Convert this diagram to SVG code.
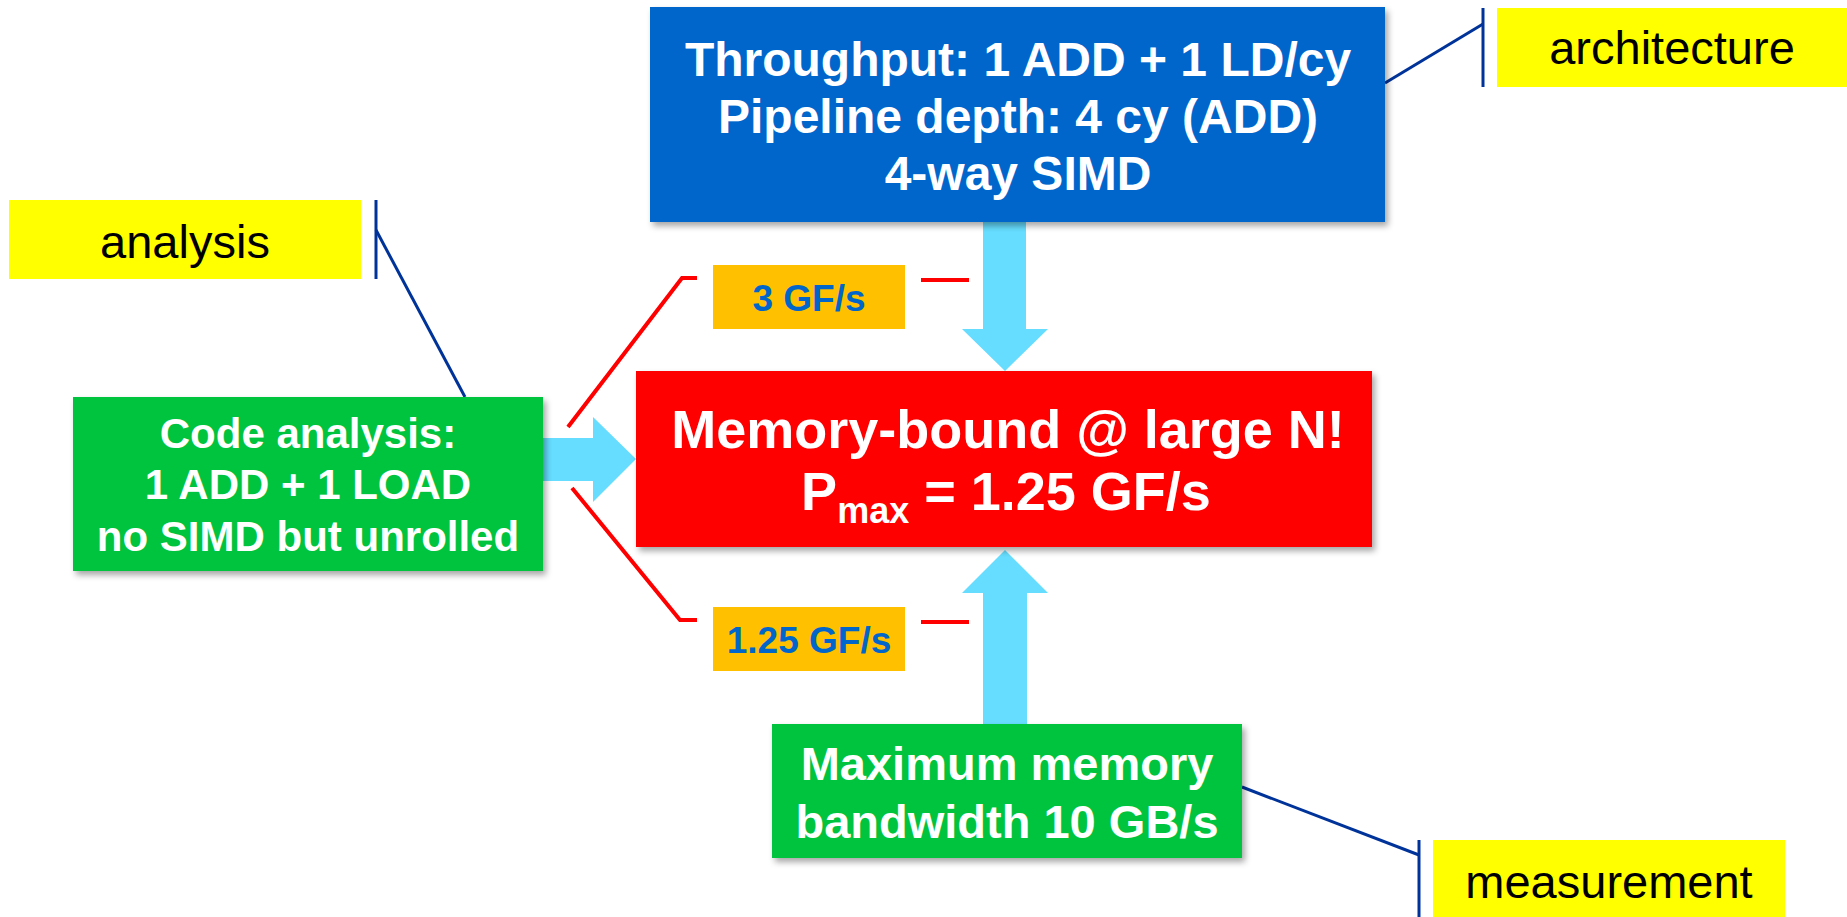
<svg xmlns="http://www.w3.org/2000/svg" width="1847" height="917" viewBox="0 0 1847 917">
<style>
.t{font-family:"Liberation Sans",Arial,sans-serif;font-weight:bold;fill:#fff;text-anchor:middle}
.lbl{font-family:"Liberation Sans",Arial,sans-serif;font-size:47px;fill:#000;text-anchor:middle}
.val{font-family:"Liberation Sans",Arial,sans-serif;font-weight:bold;font-size:37px;fill:#0066CC;text-anchor:middle}
.blue{fill:none;stroke:#003399;stroke-width:3}
.red{fill:none;stroke:#FF0000;stroke-width:4}
.arr{fill:#66DDFF}
</style>
<defs>
<filter id="sh" x="-10%" y="-10%" width="125%" height="130%">
<feDropShadow dx="3" dy="4" stdDeviation="3" flood-color="#000" flood-opacity="0.35"/>
</filter>
</defs>
<g id="connectors">
<polygon class="arr" points="983,222 1026,222 1026,329 1048,329 1005,371 962,329 983,329"/>
<polygon class="arr" points="983,724 1027,724 1027,593 1048,593 1005,550 962,593 983,593"/>
<polygon class="arr" points="543,438 593,438 593,417 636,459 593,502 593,481 543,481"/>
<polyline class="red" points="568,427 682,278 697,278"/>
<line class="red" x1="921" y1="280" x2="969" y2="280"/>
<polyline class="red" points="572,488 680,620 697,620"/>
<line class="red" x1="921" y1="622" x2="969" y2="622"/>
<polyline class="blue" points="1385,83 1483,24"/>
<line class="blue" x1="1483" y1="8" x2="1483" y2="87"/>
<polyline class="blue" points="376,230 465,397"/>
<line class="blue" x1="376" y1="200" x2="376" y2="279"/>
<polyline class="blue" points="1242,787 1419,855"/>
<line class="blue" x1="1419" y1="840" x2="1419" y2="917"/>
</g>
<g id="architecture-box">
<rect x="650" y="7" width="735" height="215" fill="#0066CC" filter="url(#sh)"/>
<text class="t" font-size="48" x="1018" y="76">Throughput: 1 ADD + 1 LD/cy</text>
<text class="t" font-size="48" x="1018" y="133">Pipeline depth: 4 cy (ADD)</text>
<text class="t" font-size="48" x="1018" y="190">4-way SIMD</text>
</g>
<g id="architecture-label">
<rect x="1497" y="8" width="350" height="79" fill="#FFFF00"/>
<text class="lbl" x="1672" y="64">architecture</text>
</g>
<g id="analysis-label">
<rect x="9" y="200" width="352" height="79" fill="#FFFF00"/>
<text class="lbl" x="185" y="258">analysis</text>
</g>
<g id="code-analysis">
<rect x="73" y="397" width="470" height="174" fill="#00C43C" filter="url(#sh)"/>
<text class="t" font-size="42" x="308" y="448">Code analysis:</text>
<text class="t" font-size="42" x="308" y="499">1 ADD + 1 LOAD</text>
<text class="t" font-size="42" x="308" y="551">no SIMD but unrolled</text>
</g>
<g id="result">
<rect x="636" y="371" width="736" height="176" fill="#FF0000" filter="url(#sh)"/>
<text class="t" font-size="54" x="1008" y="448">Memory-bound @ large N!</text>
<text class="t" font-size="54" x="1006" y="510">P<tspan font-size="36" dy="13">max</tspan><tspan dy="-13"> = 1.25 GF/s</tspan></text>
</g>
<g id="peak-value">
<rect x="713" y="265" width="192" height="64" fill="#FFC000"/>
<text class="val" x="809" y="311">3 GF/s</text>
</g>
<g id="bound-value">
<rect x="713" y="607" width="192" height="64" fill="#FFC000"/>
<text class="val" x="809" y="653">1.25 GF/s</text>
</g>
<g id="memory-bandwidth">
<rect x="772" y="724" width="470" height="134" fill="#00C43C" filter="url(#sh)"/>
<text class="t" font-size="47" x="1007" y="780">Maximum memory</text>
<text class="t" font-size="47" x="1007" y="838">bandwidth 10 GB/s</text>
</g>
<g id="measurement-label">
<rect x="1433" y="840" width="352" height="77" fill="#FFFF00"/>
<text class="lbl" x="1609" y="898">measurement</text>
</g>
</svg>
